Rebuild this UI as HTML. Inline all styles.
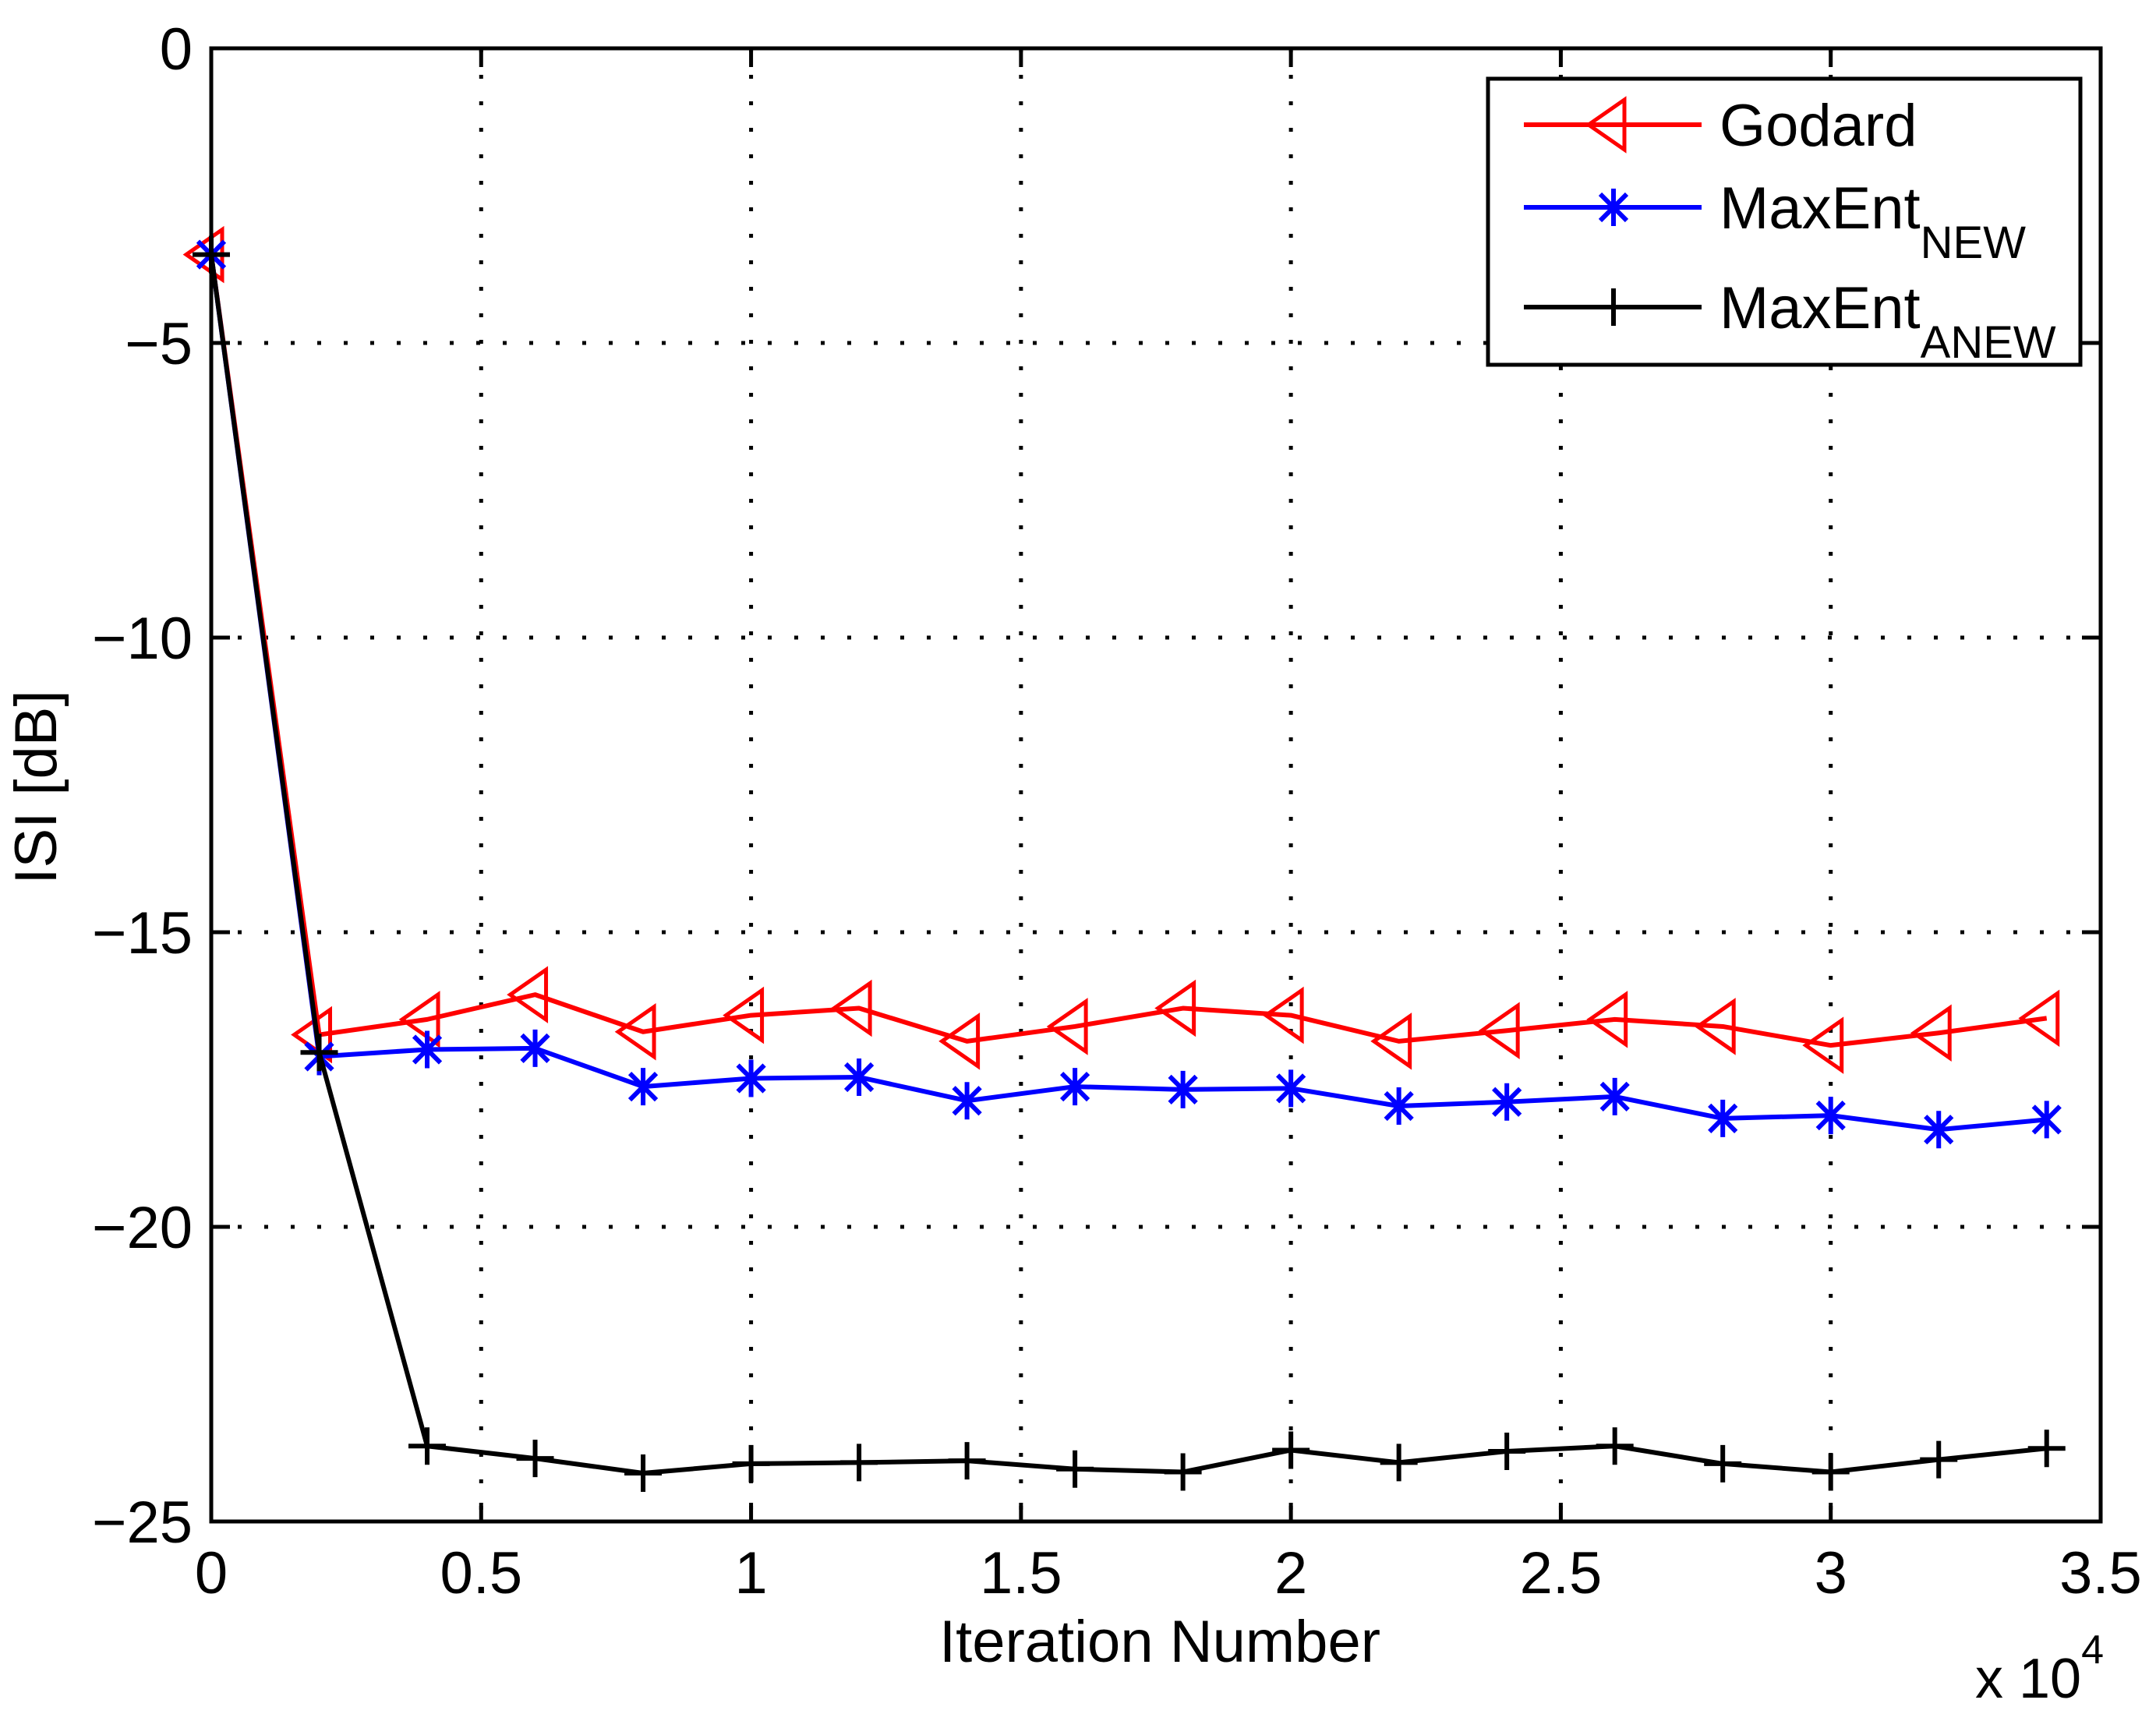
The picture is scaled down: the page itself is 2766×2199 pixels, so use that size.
<!DOCTYPE html>
<html><head><meta charset="utf-8"><style>
html,body{margin:0;padding:0;background:#fff;}
svg{display:block;font-family:"Liberation Sans",Arial,sans-serif;}
</style></head><body>
<svg id="chart" width="2766" height="2199" viewBox="0 0 2766 2199" xmlns="http://www.w3.org/2000/svg">
<rect x="0" y="0" width="2766" height="2199" fill="#fff"/>
<g id="grid"></g>
<g id="series"></g>
<rect x="271" y="62" width="2424" height="1890" fill="none" stroke="#000" stroke-width="5"/>
<g id="ticks"></g>
<text x="1488" y="2132" font-size="76" text-anchor="middle">Iteration Number</text>
<text x="0" y="0" font-size="76" text-anchor="middle" transform="translate(72,1010) rotate(-90)">ISI [dB]</text>
<text x="2534" y="2178" font-size="72">x 10<tspan dy="-44" font-size="52">4</tspan></text>
<g id="legend">
<rect x="1909" y="101" width="760" height="367" fill="#fff" stroke="#000" stroke-width="5"/>
</g>
</svg>
<script>
const xs = [0,0.2,0.4,0.6,0.8,1.0,1.2,1.4,1.6,1.8,2.0,2.2,2.4,2.6,2.8,3.0,3.2,3.4];
const godard = [-3.5,-16.74,-16.48,-16.06,-16.69,-16.41,-16.29,-16.85,-16.6,-16.29,-16.41,-16.85,-16.67,-16.48,-16.6,-16.92,-16.71,-16.46];
const maxentNew = [-3.5,-17.11,-16.99,-16.97,-17.62,-17.48,-17.46,-17.86,-17.62,-17.67,-17.65,-17.95,-17.88,-17.79,-18.16,-18.11,-18.35,-18.18];
const maxentAnew = [-3.5,-17.04,-23.72,-23.93,-24.18,-24.02,-24.0,-23.97,-24.11,-24.16,-23.79,-24.0,-23.81,-23.72,-24.02,-24.16,-23.95,-23.76];
const xTicks = [0,0.5,1,1.5,2,2.5,3,3.5];
const xTickLabels = ["0","0.5","1","1.5","2","2.5","3","3.5"];
const yTicks = [0,-5,-10,-15,-20,-25];
const yTickLabels = ["0","\u22125","\u221210","\u221215","\u221220","\u221225"];

const L=271,R=2695,T=62,B=1952;
const X=v=>L+(v-0)/(3.5-0)*(R-L);
const Y=v=>T+(0-v)/(0-(-25))*(B-T);
const NS="http://www.w3.org/2000/svg";
function mk(tag,attrs,parent){const e=document.createElementNS(NS,tag);for(const k in attrs)e.setAttribute(k,attrs[k]);parent.appendChild(e);return e;}
const grid=document.getElementById('grid'),ticks=document.getElementById('ticks'),series=document.getElementById('series'),legend=document.getElementById('legend');

xTicks.forEach((t,i)=>{
  const x=X(t);
  if(i>0&&i<xTicks.length-1){
    const g=mk('line',{x1:x,y1:T,x2:x,y2:B,stroke:'#000','stroke-width':5,'stroke-dasharray':'5 29'},grid);
    
    
  }
  const a=mk('line',{x1:x,y1:B,x2:x,y2:B-24,stroke:'#000','stroke-width':5},ticks);
  
  
  const b=mk('line',{x1:x,y1:T,x2:x,y2:T+24,stroke:'#000','stroke-width':5},ticks);
  
  
  const tx=mk('text',{x:x,y:2044,'font-size':76,'text-anchor':'middle'},ticks);
  tx.textContent=xTickLabels[i];
  
  
});
yTicks.forEach((t,i)=>{
  const y=Y(t);
  if(i>0&&i<yTicks.length-1){
    const g=mk('line',{x1:L,y1:y,x2:R,y2:y,stroke:'#000','stroke-width':5,'stroke-dasharray':'5 29'},grid);
    
    
  }
  const a=mk('line',{x1:L,y1:y,x2:L+24,y2:y,stroke:'#000','stroke-width':5},ticks);
  
  
  const b=mk('line',{x1:R,y1:y,x2:R-24,y2:y,stroke:'#000','stroke-width':5},ticks);
  
  
  const tx=mk('text',{x:247,y:y+27,'font-size':76,'text-anchor':'end'},ticks);
  tx.textContent=yTickLabels[i];
  
  
});

function marker(kind,cx,cy,color,parent){
  let e;
  if(kind==='tri'){
    e=mk('path',{d:`M${cx-32},${cy} L${cx+14},${cy-32} L${cx+14},${cy+32} Z`,fill:'none',stroke:color,'stroke-width':5},parent);
  }else if(kind==='star'){
    const s=24,d=17;
    e=mk('path',{d:`M${cx},${cy-s}V${cy+s}M${cx-d},${cy-d}L${cx+d},${cy+d}M${cx-d},${cy+d}L${cx+d},${cy-d}`,fill:'none',stroke:color,'stroke-width':6},parent);
  }else{
    const s=24;
    e=mk('path',{d:`M${cx-s},${cy}H${cx+s}M${cx},${cy-s}V${cy+s}`,fill:'none',stroke:color,'stroke-width':6},parent);
  }
  return e;
}
const defs=[
  {vals:godard,color:'#ff0000',m:'tri',name:'godard'},
  {vals:maxentNew,color:'#0000ff',m:'star',name:'maxent-new'},
  {vals:maxentAnew,color:'#000000',m:'plus',name:'maxent-anew'}
];
defs.forEach(s=>{
  const g=mk('g',{},series);
  
  
  const pts=xs.map((x,i)=>X(x)+','+Y(s.vals[i])).join(' ');
  const pl=mk('polyline',{points:pts,fill:'none',stroke:s.color,'stroke-width':6,'stroke-linejoin':'round'},g);
  
  
  xs.forEach((x,i)=>{
    const mm=marker(s.m,X(x),Y(s.vals[i]),s.color,g);
    
    
  });
});
const rows=[{y:160,label:'Godard',sub:''},{y:266,label:'MaxEnt',sub:'NEW'},{y:394,label:'MaxEnt',sub:'ANEW'}];
rows.forEach((r,i)=>{
  const s=defs[i];
  const g=mk('g',{},legend);
  
  
  mk('line',{x1:1955,y1:r.y,x2:2183,y2:r.y,stroke:s.color,'stroke-width':6},g);
  marker(s.m,2070,r.y,s.color,g);
  const t=mk('text',{x:2206,y:r.y+27,'font-size':76},g);
  t.textContent=r.label;
  if(r.sub){const ts=mk('tspan',{dy:38,'font-size':58},t);ts.textContent=r.sub;}
});
</script>
</body></html>
